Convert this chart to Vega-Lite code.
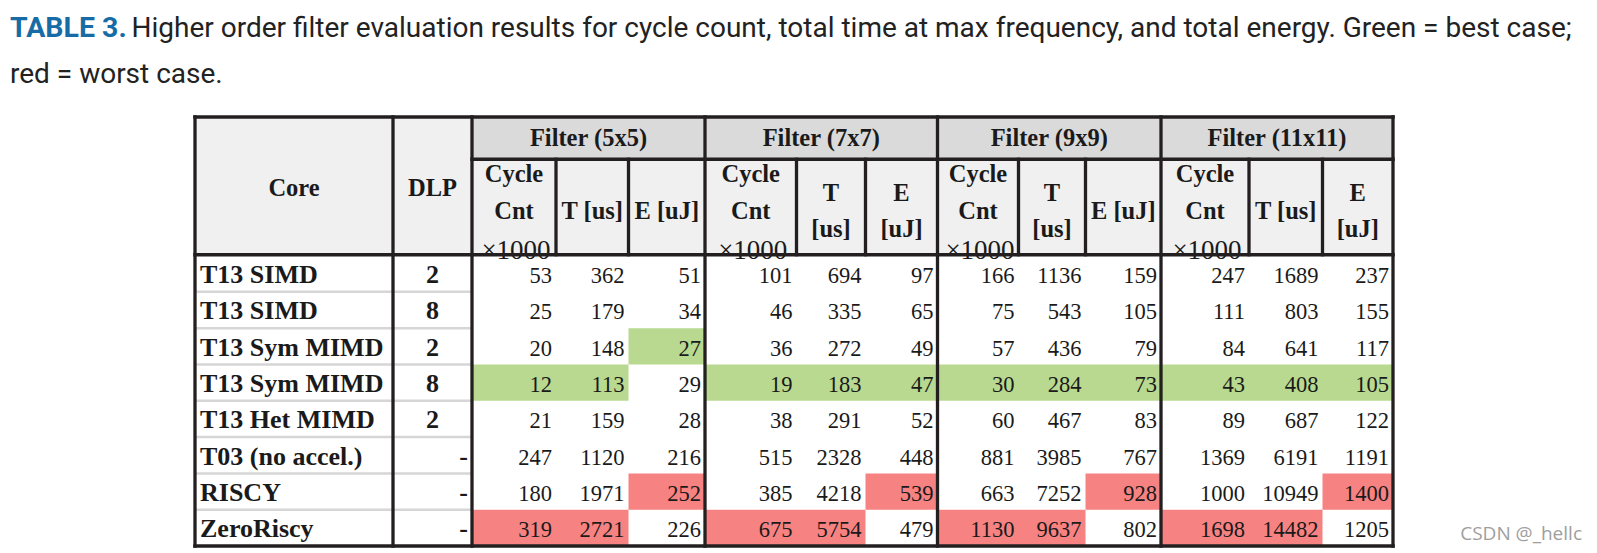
{
  "$schema": "https://vega.github.io/schema/vega-lite/v6.json",
  "width": 1597,
  "height": 553,
  "autosize": {"type": "none"},
  "padding": 0,
  "background": "#ffffff",
  "config": {"view": {"stroke": null}, "axis": {"disable": true}, "legend": {"disable": true}},
  "datasets": {
    "rows": [
      {"row": 0, "core": "T13 SIMD", "dlp": "2"},
      {"row": 1, "core": "T13 SIMD", "dlp": "8"},
      {"row": 2, "core": "T13 Sym MIMD", "dlp": "2"},
      {"row": 3, "core": "T13 Sym MIMD", "dlp": "8"},
      {"row": 4, "core": "T13 Het MIMD", "dlp": "2"},
      {"row": 5, "core": "T03 (no accel.)", "dlp": "-"},
      {"row": 6, "core": "RISCY", "dlp": "-"},
      {"row": 7, "core": "ZeroRiscy", "dlp": "-"}
    ],
    "cells": [
      {"row":0,"col":1,"v":53},{"row":0,"col":2,"v":362},{"row":0,"col":3,"v":51},{"row":0,"col":4,"v":101},{"row":0,"col":5,"v":694},{"row":0,"col":6,"v":97},{"row":0,"col":7,"v":166},{"row":0,"col":8,"v":1136},{"row":0,"col":9,"v":159},{"row":0,"col":10,"v":247},{"row":0,"col":11,"v":1689},{"row":0,"col":12,"v":237},
      {"row":1,"col":1,"v":25},{"row":1,"col":2,"v":179},{"row":1,"col":3,"v":34},{"row":1,"col":4,"v":46},{"row":1,"col":5,"v":335},{"row":1,"col":6,"v":65},{"row":1,"col":7,"v":75},{"row":1,"col":8,"v":543},{"row":1,"col":9,"v":105},{"row":1,"col":10,"v":111},{"row":1,"col":11,"v":803},{"row":1,"col":12,"v":155},
      {"row":2,"col":1,"v":20},{"row":2,"col":2,"v":148},{"row":2,"col":3,"v":27},{"row":2,"col":4,"v":36},{"row":2,"col":5,"v":272},{"row":2,"col":6,"v":49},{"row":2,"col":7,"v":57},{"row":2,"col":8,"v":436},{"row":2,"col":9,"v":79},{"row":2,"col":10,"v":84},{"row":2,"col":11,"v":641},{"row":2,"col":12,"v":117},
      {"row":3,"col":1,"v":12},{"row":3,"col":2,"v":113},{"row":3,"col":3,"v":29},{"row":3,"col":4,"v":19},{"row":3,"col":5,"v":183},{"row":3,"col":6,"v":47},{"row":3,"col":7,"v":30},{"row":3,"col":8,"v":284},{"row":3,"col":9,"v":73},{"row":3,"col":10,"v":43},{"row":3,"col":11,"v":408},{"row":3,"col":12,"v":105},
      {"row":4,"col":1,"v":21},{"row":4,"col":2,"v":159},{"row":4,"col":3,"v":28},{"row":4,"col":4,"v":38},{"row":4,"col":5,"v":291},{"row":4,"col":6,"v":52},{"row":4,"col":7,"v":60},{"row":4,"col":8,"v":467},{"row":4,"col":9,"v":83},{"row":4,"col":10,"v":89},{"row":4,"col":11,"v":687},{"row":4,"col":12,"v":122},
      {"row":5,"col":1,"v":247},{"row":5,"col":2,"v":1120},{"row":5,"col":3,"v":216},{"row":5,"col":4,"v":515},{"row":5,"col":5,"v":2328},{"row":5,"col":6,"v":448},{"row":5,"col":7,"v":881},{"row":5,"col":8,"v":3985},{"row":5,"col":9,"v":767},{"row":5,"col":10,"v":1369},{"row":5,"col":11,"v":6191},{"row":5,"col":12,"v":1191},
      {"row":6,"col":1,"v":180},{"row":6,"col":2,"v":1971},{"row":6,"col":3,"v":252},{"row":6,"col":4,"v":385},{"row":6,"col":5,"v":4218},{"row":6,"col":6,"v":539},{"row":6,"col":7,"v":663},{"row":6,"col":8,"v":7252},{"row":6,"col":9,"v":928},{"row":6,"col":10,"v":1000},{"row":6,"col":11,"v":10949},{"row":6,"col":12,"v":1400},
      {"row":7,"col":1,"v":319},{"row":7,"col":2,"v":2721},{"row":7,"col":3,"v":226},{"row":7,"col":4,"v":675},{"row":7,"col":5,"v":5754},{"row":7,"col":6,"v":479},{"row":7,"col":7,"v":1130},{"row":7,"col":8,"v":9637},{"row":7,"col":9,"v":802},{"row":7,"col":10,"v":1698},{"row":7,"col":11,"v":14482},{"row":7,"col":12,"v":1205}
    ],
    "highlights": [
      {"row": 2, "from": 2, "to": 3, "case": "best"},
      {"row": 3, "from": 0, "to": 2, "case": "best"},
      {"row": 3, "from": 3, "to": 12, "case": "best"},
      {"row": 6, "from": 2, "to": 3, "case": "worst"},
      {"row": 6, "from": 5, "to": 6, "case": "worst"},
      {"row": 6, "from": 8, "to": 9, "case": "worst"},
      {"row": 6, "from": 11, "to": 12, "case": "worst"},
      {"row": 7, "from": 0, "to": 2, "case": "worst"},
      {"row": 7, "from": 3, "to": 5, "case": "worst"},
      {"row": 7, "from": 6, "to": 8, "case": "worst"},
      {"row": 7, "from": 9, "to": 11, "case": "worst"}
    ],
    "groups": [
      {"name": "Filter (5x5)", "from": 0, "to": 3},
      {"name": "Filter (7x7)", "from": 3, "to": 6},
      {"name": "Filter (9x9)", "from": 6, "to": 9},
      {"name": "Filter (11x11)", "from": 9, "to": 12}
    ],
    "subs": [
      {"col": 1, "label": ["Cycle", "Cnt"], "note": "×1000"},
      {"col": 2, "label": ["T [us]"]},
      {"col": 3, "label": ["E [uJ]"]},
      {"col": 4, "label": ["Cycle", "Cnt"], "note": "×1000"},
      {"col": 5, "label": ["T", "[us]"]},
      {"col": 6, "label": ["E", "[uJ]"]},
      {"col": 7, "label": ["Cycle", "Cnt"], "note": "×1000"},
      {"col": 8, "label": ["T", "[us]"]},
      {"col": 9, "label": ["E [uJ]"]},
      {"col": 10, "label": ["Cycle", "Cnt"], "note": "×1000"},
      {"col": 11, "label": ["T [us]"]},
      {"col": 12, "label": ["E", "[uJ]"]}
    ],
    "vlines": [
      {"at": 0, "top": 0, "bottom": 10}, {"at": 1, "top": 0, "bottom": 10}, {"at": 2, "top": 0, "bottom": 10},
      {"at": 3, "top": 1, "bottom": 2}, {"at": 4, "top": 1, "bottom": 2}, {"at": 5, "top": 0, "bottom": 10},
      {"at": 6, "top": 1, "bottom": 2}, {"at": 7, "top": 1, "bottom": 2}, {"at": 8, "top": 0, "bottom": 10},
      {"at": 9, "top": 1, "bottom": 2}, {"at": 10, "top": 1, "bottom": 2}, {"at": 11, "top": 0, "bottom": 10},
      {"at": 12, "top": 1, "bottom": 2}, {"at": 13, "top": 1, "bottom": 2}, {"at": 14, "top": 0, "bottom": 10}
    ],
    "hlines": [
      {"at": 0, "from": 0, "to": 14},
      {"at": 1, "from": 2, "to": 14},
      {"at": 2, "from": 0, "to": 14},
      {"at": 10, "from": 0, "to": 14}
    ]
  },
  "resolve": {"scale": {"x": "independent", "y": "independent", "color": "independent"}},
  "layer": [
    {
      "data": {"values": [{"part": "header"}]},
      "mark": {"type": "rect", "color": "#f0f0f0"},
      "encoding": {
        "x": {"datum": 0, "type": "quantitative", "scale": {"domain": [-1,0,1,2,3,4,5,6,7,8,9,10,11,12,13,14,15], "range": [10,195,393,472,556,628.5,705,796.5,865.5,937.5,1018.5,1085.5,1161,1249,1322.5,1393,1597], "zero": false, "nice": false}},
        "x2": {"datum": 14},
        "y": {"datum": 0, "type": "quantitative", "scale": {"domain": [-2,-1,0,1,2,10], "range": [37.3,83.3,117,159.3,254.7,546], "zero": false, "nice": false}},
        "y2": {"datum": 2}
      }
    },
    {
      "data": {"name": "groups"},
      "mark": {"type": "rect", "color": "#dadada"},
      "encoding": {
        "x": {"field": "from", "type": "quantitative", "scale": {"domain": [0,1,2,3,4,5,6,7,8,9,10,11,12], "range": [472,556,628.5,705,796.5,865.5,937.5,1018.5,1085.5,1161,1249,1322.5,1393], "zero": false, "nice": false}},
        "x2": {"field": "to"},
        "y": {"datum": 0, "type": "quantitative", "scale": {"domain": [-2,-1,0,1,2,10], "range": [37.3,83.3,117,159.3,254.7,546], "zero": false, "nice": false}},
        "y2": {"datum": 1}
      }
    },
    {
      "data": {"name": "highlights"},
      "mark": {"type": "rect"},
      "encoding": {
        "x": {"field": "from", "type": "quantitative", "scale": {"domain": [0,1,2,3,4,5,6,7,8,9,10,11,12], "range": [472,556,628.5,705,796.5,865.5,937.5,1018.5,1085.5,1161,1249,1322.5,1393], "zero": false, "nice": false}},
        "x2": {"field": "to"},
        "y": {"field": "row", "type": "ordinal", "scale": {"type": "band", "domain": [0,1,2,3,4,5,6,7], "range": [255.5,546], "paddingInner": 0, "paddingOuter": 0}},
        "color": {"field": "case", "type": "nominal", "scale": {"domain": ["best", "worst"], "range": ["#b8d98f", "#f78282"]}, "legend": null}
      }
    },
    {
      "data": {"name": "rows"},
      "transform": [{"filter": "datum.row > 0"}],
      "mark": {"type": "rule", "color": "#d6d6d6", "strokeWidth": 2.5},
      "encoding": {
        "x": {"datum": 0, "type": "quantitative", "scale": {"domain": [-1,0,1,2,3,4,5,6,7,8,9,10,11,12,13,14,15], "range": [10,195,393,472,556,628.5,705,796.5,865.5,937.5,1018.5,1085.5,1161,1249,1322.5,1393,1597], "zero": false, "nice": false}},
        "x2": {"datum": 2},
        "y": {"field": "row", "type": "ordinal", "bandPosition": 0, "scale": {"type": "band", "domain": [0,1,2,3,4,5,6,7], "range": [255.5,546], "paddingInner": 0, "paddingOuter": 0}}
      }
    },
    {
      "data": {"values": [{"label": "Core", "col": 0}, {"label": "DLP", "col": 1}]},
      "mark": {"type": "text", "font": "Liberation Serif", "fontWeight": "bold", "fontSize": 24.5, "color": "#1a1a1a", "align": "center", "baseline": "middle", "dy": 30},
      "encoding": {
        "x": {"field": "col", "type": "quantitative", "scale": {"domain": [0, 1], "range": [294, 432.5], "zero": false, "nice": false}},
        "y": {"datum": 1, "type": "quantitative", "scale": {"domain": [-2,-1,0,1,2,10], "range": [37.3,83.3,117,159.3,254.7,546], "zero": false, "nice": false}},
        "text": {"field": "label", "type": "nominal"}
      }
    },
    {
      "data": {"name": "groups"},
      "mark": {"type": "text", "font": "Liberation Serif", "fontWeight": "bold", "fontSize": 24.5, "color": "#1a1a1a", "align": "center", "baseline": "middle", "dy": 0.5},
      "encoding": {
        "x": {"field": "from", "type": "quantitative", "scale": {"domain": [0, 3, 6, 9], "range": [588.5, 821.25, 1049.25, 1277], "zero": false, "nice": false}},
        "y": {"datum": 0.5, "type": "quantitative", "scale": {"domain": [-2,-1,0,1,2,10], "range": [37.3,83.3,117,159.3,254.7,546], "zero": false, "nice": false}},
        "text": {"field": "name", "type": "nominal"}
      }
    },
    {
      "data": {"name": "subs"},
      "transform": [{"filter": "isValid(datum.note)"}],
      "mark": {"type": "text", "font": "Liberation Serif", "fontWeight": "bold", "fontSize": 24.5, "color": "#1a1a1a", "align": "center", "baseline": "alphabetic", "lineHeight": 37, "dy": -25},
      "encoding": {
        "x": {"field": "col", "type": "quantitative", "scale": {"domain": [1,2,3,4,5,6,7,8,9,10,11,12], "range": [514,592.25,666.75,750.75,831,901.5,978,1052,1123.25,1205,1285.75,1357.75], "zero": false, "nice": false}},
        "y": {"datum": 1.5, "type": "quantitative", "scale": {"domain": [-2,-1,0,1,2,10], "range": [37.3,83.3,117,159.3,254.7,546], "zero": false, "nice": false}},
        "text": {"field": "label"}
      }
    },
    {
      "data": {"name": "subs"},
      "transform": [{"filter": "!isValid(datum.note) && length(datum.label) == 2"}],
      "mark": {"type": "text", "font": "Liberation Serif", "fontWeight": "bold", "fontSize": 24.5, "color": "#1a1a1a", "align": "center", "baseline": "alphabetic", "lineHeight": 36, "dy": -6.5},
      "encoding": {
        "x": {"field": "col", "type": "quantitative", "scale": {"domain": [1,2,3,4,5,6,7,8,9,10,11,12], "range": [514,592.25,666.75,750.75,831,901.5,978,1052,1123.25,1205,1285.75,1357.75], "zero": false, "nice": false}},
        "y": {"datum": 1.5, "type": "quantitative", "scale": {"domain": [-2,-1,0,1,2,10], "range": [37.3,83.3,117,159.3,254.7,546], "zero": false, "nice": false}},
        "text": {"field": "label"}
      }
    },
    {
      "data": {"name": "subs"},
      "transform": [{"filter": "length(datum.label) == 1"}],
      "mark": {"type": "text", "font": "Liberation Serif", "fontWeight": "bold", "fontSize": 24.5, "color": "#1a1a1a", "align": "center", "baseline": "alphabetic", "dy": 11.5},
      "encoding": {
        "x": {"field": "col", "type": "quantitative", "scale": {"domain": [1,2,3,4,5,6,7,8,9,10,11,12], "range": [514,592.25,666.75,750.75,831,901.5,978,1052,1123.25,1205,1285.75,1357.75], "zero": false, "nice": false}},
        "y": {"datum": 1.5, "type": "quantitative", "scale": {"domain": [-2,-1,0,1,2,10], "range": [37.3,83.3,117,159.3,254.7,546], "zero": false, "nice": false}},
        "text": {"field": "label"}
      }
    },
    {
      "data": {"name": "subs"},
      "transform": [{"filter": "isValid(datum.note)"}],
      "mark": {"type": "text", "font": "Liberation Serif", "fontSize": 27, "color": "#1a1a1a", "align": "center", "baseline": "alphabetic", "dy": 4},
      "encoding": {
        "x": {"field": "col", "type": "quantitative", "scale": {"domain": [1,2,3,4,5,6,7,8,9,10,11,12], "range": [516,592.25,666.75,752.75,831,901.5,980,1052,1123.25,1207,1285.75,1357.75], "zero": false, "nice": false}},
        "y": {"datum": 2, "type": "quantitative", "scale": {"domain": [-2,-1,0,1,2,10], "range": [37.3,83.3,117,159.3,254.7,546], "zero": false, "nice": false}},
        "text": {"field": "note", "type": "nominal"}
      }
    },
    {
      "data": {"name": "rows"},
      "mark": {"type": "text", "font": "Liberation Serif", "fontWeight": "bold", "fontSize": 26, "color": "#1a1a1a", "align": "left", "baseline": "alphabetic", "dx": 5, "dy": 9.5},
      "encoding": {
        "x": {"datum": 0, "type": "quantitative", "scale": {"domain": [-1,0,1,2,3,4,5,6,7,8,9,10,11,12,13,14,15], "range": [10,195,393,472,556,628.5,705,796.5,865.5,937.5,1018.5,1085.5,1161,1249,1322.5,1393,1597], "zero": false, "nice": false}},
        "y": {"field": "row", "type": "ordinal", "scale": {"type": "band", "domain": [0,1,2,3,4,5,6,7], "range": [255.5,546], "paddingInner": 0, "paddingOuter": 0}},
        "text": {"field": "core", "type": "nominal"}
      }
    },
    {
      "data": {"name": "rows"},
      "transform": [{"filter": "datum.dlp != '-'"}],
      "mark": {"type": "text", "font": "Liberation Serif", "fontWeight": "bold", "fontSize": 26, "color": "#1a1a1a", "align": "center", "baseline": "alphabetic", "dy": 9.5},
      "encoding": {
        "x": {"datum": 1.5, "type": "quantitative", "scale": {"domain": [-1,0,1,2,3,4,5,6,7,8,9,10,11,12,13,14,15], "range": [10,195,393,472,556,628.5,705,796.5,865.5,937.5,1018.5,1085.5,1161,1249,1322.5,1393,1597], "zero": false, "nice": false}},
        "y": {"field": "row", "type": "ordinal", "scale": {"type": "band", "domain": [0,1,2,3,4,5,6,7], "range": [255.5,546], "paddingInner": 0, "paddingOuter": 0}},
        "text": {"field": "dlp", "type": "nominal"}
      }
    },
    {
      "data": {"name": "rows"},
      "transform": [{"filter": "datum.dlp == '-'"}],
      "mark": {"type": "text", "font": "Liberation Serif", "fontWeight": "bold", "fontSize": 26, "color": "#1a1a1a", "align": "right", "baseline": "alphabetic", "dx": -4, "dy": 9.5},
      "encoding": {
        "x": {"datum": 2, "type": "quantitative", "scale": {"domain": [-1,0,1,2,3,4,5,6,7,8,9,10,11,12,13,14,15], "range": [10,195,393,472,556,628.5,705,796.5,865.5,937.5,1018.5,1085.5,1161,1249,1322.5,1393,1597], "zero": false, "nice": false}},
        "y": {"field": "row", "type": "ordinal", "scale": {"type": "band", "domain": [0,1,2,3,4,5,6,7], "range": [255.5,546], "paddingInner": 0, "paddingOuter": 0}},
        "text": {"field": "dlp", "type": "nominal"}
      }
    },
    {
      "data": {"name": "cells"},
      "mark": {"type": "text", "font": "Liberation Serif", "fontSize": 22.5, "color": "#1a1a1a", "align": "right", "baseline": "alphabetic", "dx": -4, "dy": 9.5},
      "encoding": {
        "x": {"field": "col", "type": "quantitative", "scale": {"domain": [0,1,2,3,4,5,6,7,8,9,10,11,12], "range": [472,556,628.5,705,796.5,865.5,937.5,1018.5,1085.5,1161,1249,1322.5,1393], "zero": false, "nice": false}},
        "y": {"field": "row", "type": "ordinal", "scale": {"type": "band", "domain": [0,1,2,3,4,5,6,7], "range": [255.5,546], "paddingInner": 0, "paddingOuter": 0}},
        "text": {"field": "v", "type": "quantitative", "format": "d"}
      }
    },
    {
      "data": {"name": "vlines"},
      "mark": {"type": "rule", "color": "#231f20", "strokeWidth": 3.3, "strokeCap": "square"},
      "encoding": {
        "x": {"field": "at", "type": "quantitative", "scale": {"domain": [-1,0,1,2,3,4,5,6,7,8,9,10,11,12,13,14,15], "range": [10,195,393,472,556,628.5,705,796.5,865.5,937.5,1018.5,1085.5,1161,1249,1322.5,1393,1597], "zero": false, "nice": false}},
        "y": {"field": "top", "type": "quantitative", "scale": {"domain": [-2,-1,0,1,2,10], "range": [37.3,83.3,117,159.3,254.7,546], "zero": false, "nice": false}},
        "y2": {"field": "bottom"}
      }
    },
    {
      "data": {"name": "hlines"},
      "mark": {"type": "rule", "color": "#231f20", "strokeWidth": 3.5, "strokeCap": "square"},
      "encoding": {
        "x": {"field": "from", "type": "quantitative", "scale": {"domain": [-1,0,1,2,3,4,5,6,7,8,9,10,11,12,13,14,15], "range": [10,195,393,472,556,628.5,705,796.5,865.5,937.5,1018.5,1085.5,1161,1249,1322.5,1393,1597], "zero": false, "nice": false}},
        "x2": {"field": "to"},
        "y": {"field": "at", "type": "quantitative", "scale": {"domain": [-2,-1,0,1,2,10], "range": [37.3,83.3,117,159.3,254.7,546], "zero": false, "nice": false}}
      }
    },
    {
      "data": {"values": [{"text": "TABLE 3."}]},
      "mark": {"type": "text", "font": "Roboto", "fontWeight": "bold", "fontSize": 28.5, "color": "#176ca6", "align": "left", "baseline": "alphabetic"},
      "encoding": {
        "x": {"datum": -1, "type": "quantitative", "scale": {"domain": [-1,0,1,2,3,4,5,6,7,8,9,10,11,12,13,14,15], "range": [10,195,393,472,556,628.5,705,796.5,865.5,937.5,1018.5,1085.5,1161,1249,1322.5,1393,1597], "zero": false, "nice": false}},
        "y": {"datum": -2, "type": "quantitative", "scale": {"domain": [-2,-1,0,1,2,10], "range": [37.3,83.3,117,159.3,254.7,546], "zero": false, "nice": false}},
        "text": {"field": "text", "type": "nominal"}
      }
    },
    {
      "data": {"values": [{"text": "Higher order filter evaluation results for cycle count, total time at max frequency, and total energy. Green = best case;"}]},
      "mark": {"type": "text", "font": "Roboto", "fontSize": 28, "color": "#222222", "align": "left", "baseline": "alphabetic", "dx": 121.5},
      "encoding": {
        "x": {"datum": -1, "type": "quantitative", "scale": {"domain": [-1,0,1,2,3,4,5,6,7,8,9,10,11,12,13,14,15], "range": [10,195,393,472,556,628.5,705,796.5,865.5,937.5,1018.5,1085.5,1161,1249,1322.5,1393,1597], "zero": false, "nice": false}},
        "y": {"datum": -2, "type": "quantitative", "scale": {"domain": [-2,-1,0,1,2,10], "range": [37.3,83.3,117,159.3,254.7,546], "zero": false, "nice": false}},
        "text": {"field": "text", "type": "nominal"}
      }
    },
    {
      "data": {"values": [{"text": "red = worst case."}]},
      "mark": {"type": "text", "font": "Roboto", "fontSize": 28, "color": "#222222", "align": "left", "baseline": "alphabetic"},
      "encoding": {
        "x": {"datum": -1, "type": "quantitative", "scale": {"domain": [-1,0,1,2,3,4,5,6,7,8,9,10,11,12,13,14,15], "range": [10,195,393,472,556,628.5,705,796.5,865.5,937.5,1018.5,1085.5,1161,1249,1322.5,1393,1597], "zero": false, "nice": false}},
        "y": {"datum": -1, "type": "quantitative", "scale": {"domain": [-2,-1,0,1,2,10], "range": [37.3,83.3,117,159.3,254.7,546], "zero": false, "nice": false}},
        "text": {"field": "text", "type": "nominal"}
      }
    },
    {
      "data": {"values": [{"text": "CSDN @_hellc"}]},
      "mark": {"type": "text", "font": "Open Sans", "fontSize": 19, "color": "#9e9e9e", "align": "right", "baseline": "alphabetic", "dx": -15, "dy": -6},
      "encoding": {
        "x": {"datum": 15, "type": "quantitative", "scale": {"domain": [-1,0,1,2,3,4,5,6,7,8,9,10,11,12,13,14,15], "range": [10,195,393,472,556,628.5,705,796.5,865.5,937.5,1018.5,1085.5,1161,1249,1322.5,1393,1597], "zero": false, "nice": false}},
        "y": {"datum": 10, "type": "quantitative", "scale": {"domain": [-2,-1,0,1,2,10], "range": [37.3,83.3,117,159.3,254.7,546], "zero": false, "nice": false}},
        "text": {"field": "text", "type": "nominal"}
      }
    }
  ]
}
